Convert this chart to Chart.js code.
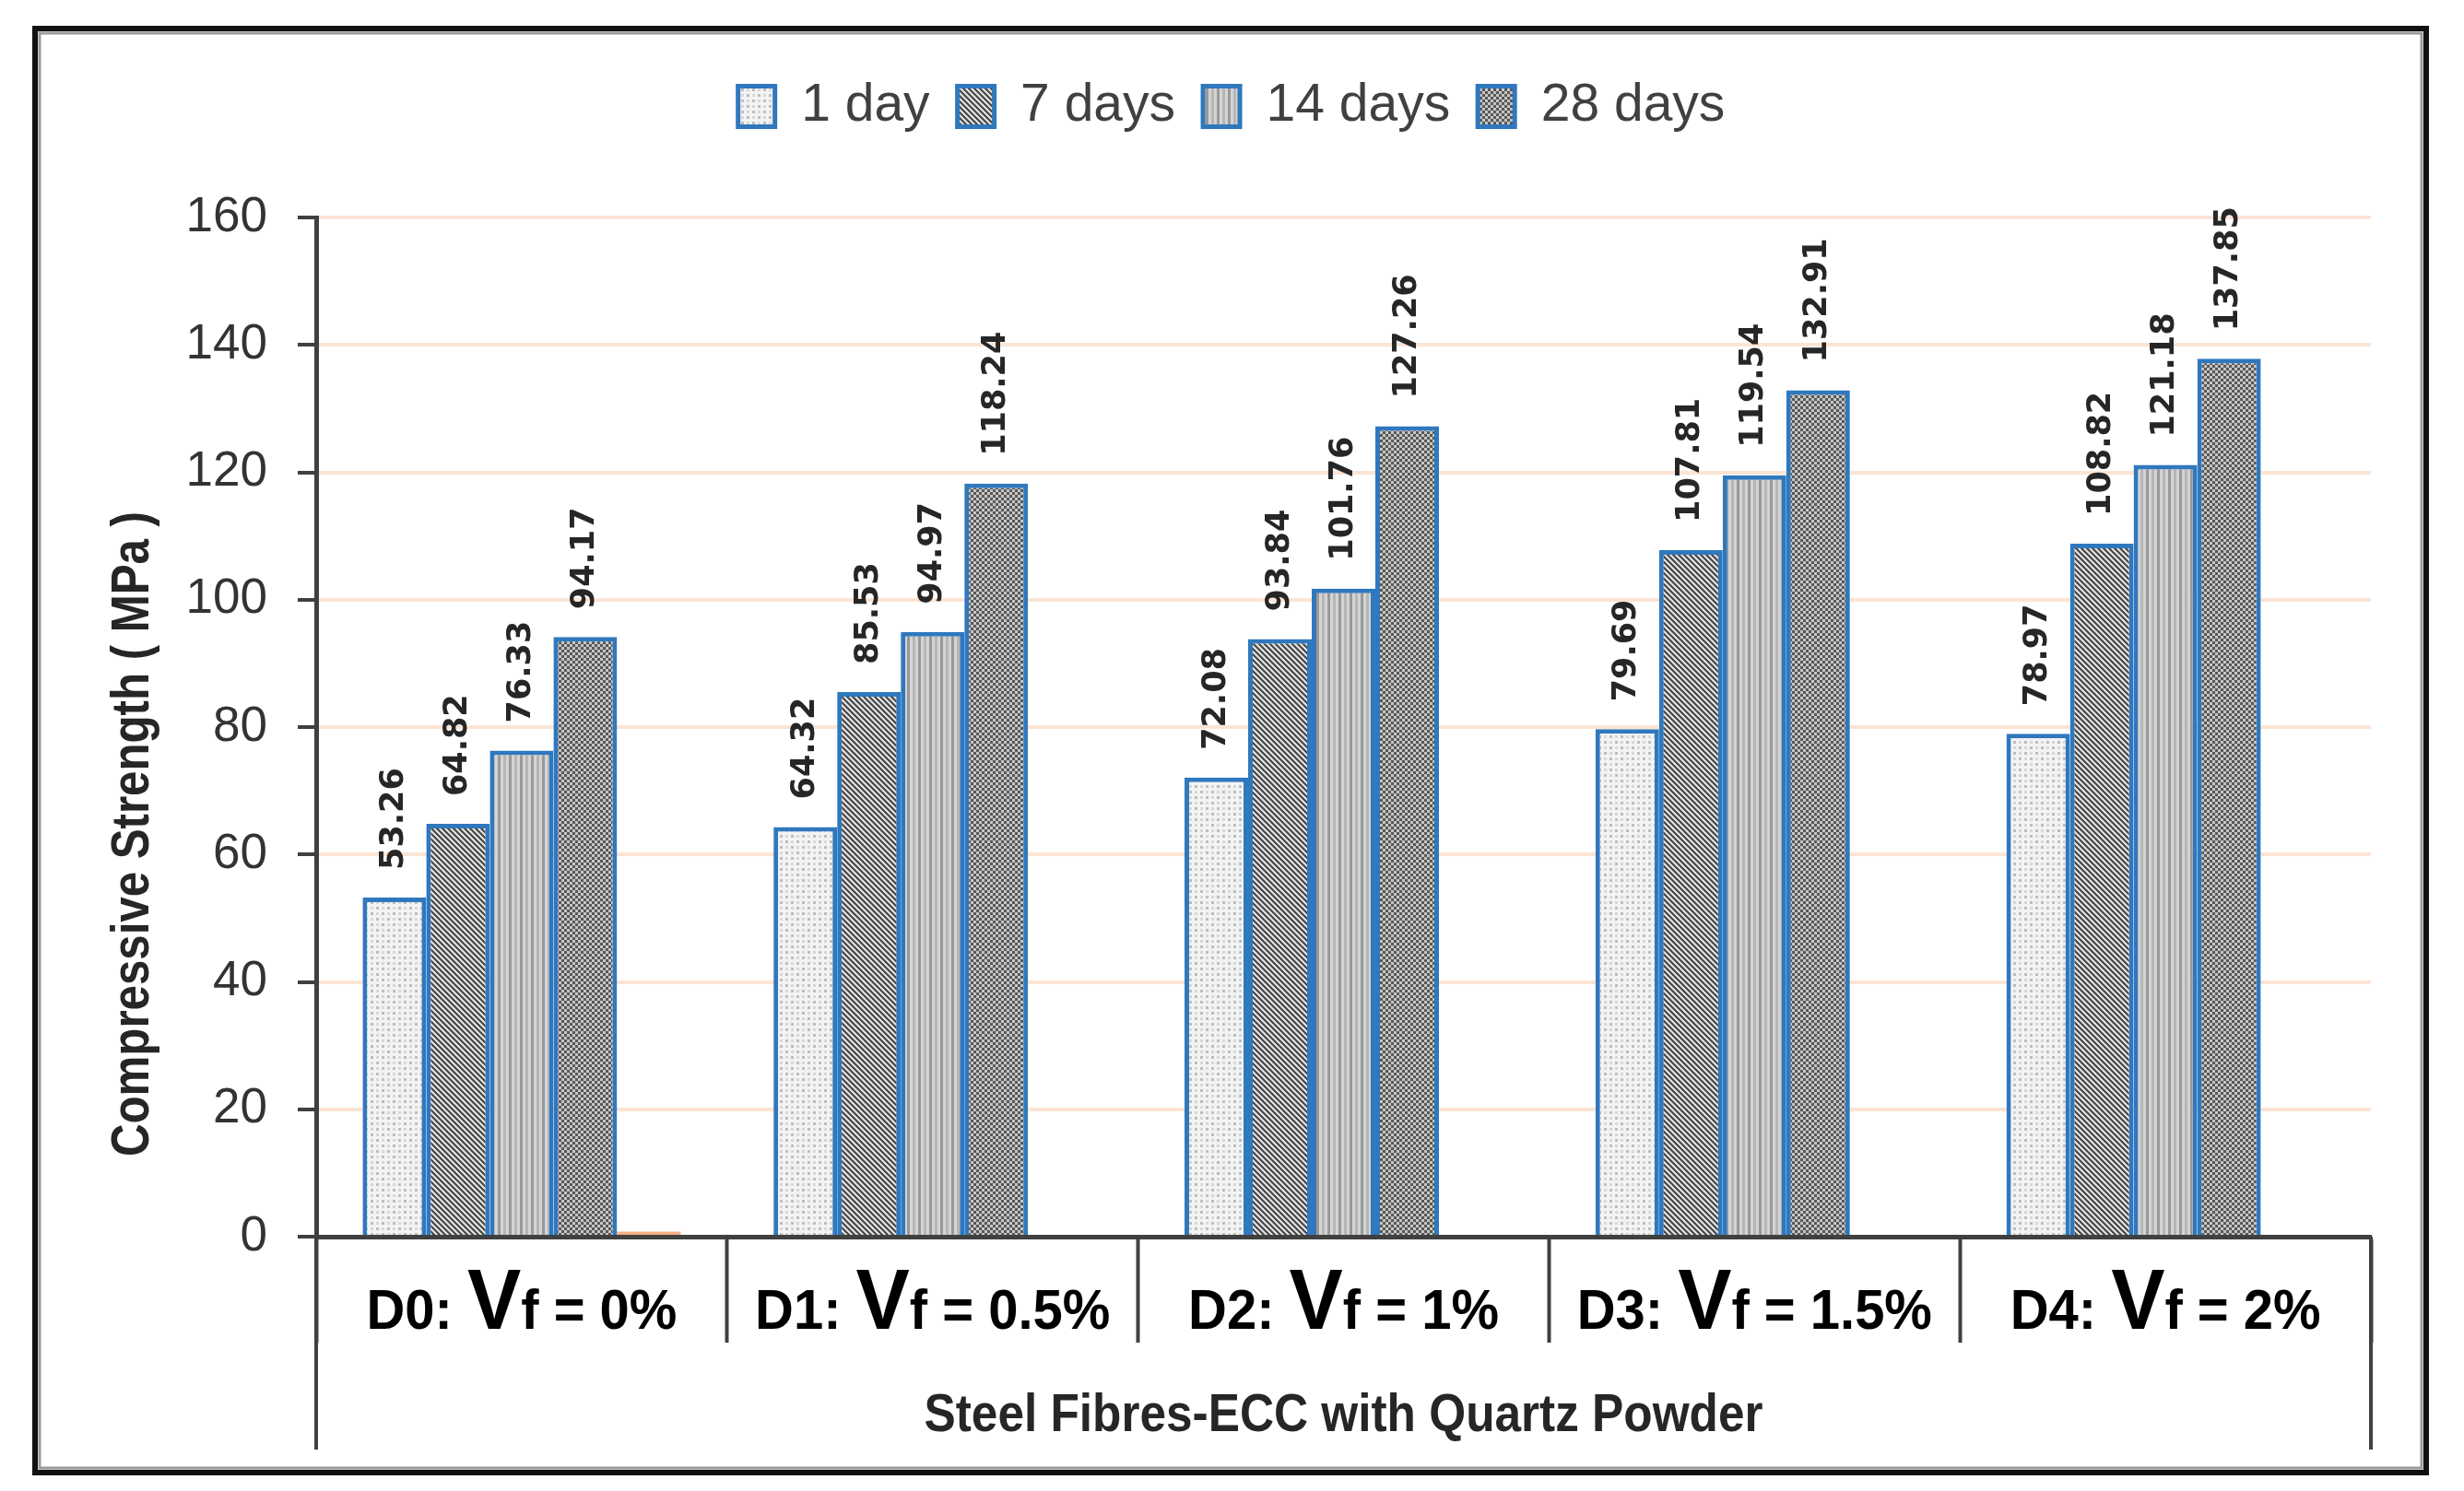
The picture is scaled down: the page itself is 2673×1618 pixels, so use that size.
<!DOCTYPE html>
<html>
<head>
<meta charset="utf-8">
<script src="https://cdn.jsdelivr.net/npm/chart.js@4.4.1/dist/chart.umd.min.js"></script>
<style>
  html, body { margin: 0; padding: 0; background: #fff; }
  #wrap { width: 2673px; height: 1618px; position: relative; }
</style>
</head>
<body>
<div id="wrap"><canvas id="chart"></canvas></div>
<script>
// data
const mixes = ['D0', 'D1', 'D2', 'D3', 'D4'];
const fibreVolumes = ['0%', '0.5%', '1%', '1.5%', '2%'];
const ageLabels = ['1 day', '7 days', '14 days', '28 days'];
const day1 = [53.26, 64.32, 72.08, 79.69, 78.97];
const day7 = [64.82, 85.53, 93.84, 107.81, 108.82];
const day14 = [76.33, 94.97, 101.76, 119.54, 121.18];
const day28 = [94.17, 118.24, 127.26, 132.91, 137.85];
const strayBar = [0.8, null, null, null, null]; // small orange bar next to D0
const yMin = 0, yMax = 160, yStep = 20;
const yTitle = 'Compressive Strength ( MPa )';
const groupTitle = 'Steel Fibres-ECC with Quartz Powder';

const AXIS = '#404040';
const BORDER_BLUE = '#2f78be';
const SANS = "'Liberation Sans', Arial, sans-serif";

const canvas = document.getElementById('chart');
const mainCtx = canvas.getContext('2d');

function makePattern(w, h, draw) {
    const c = document.createElement('canvas');
    c.width = w; c.height = h;
    draw(c.getContext('2d'));
    return mainCtx.createPattern(c, 'repeat');
}

// 1 day - light speckle
const patLight = makePattern(12, 12, g => {
    g.fillStyle = '#f3f3f3'; g.fillRect(0, 0, 12, 12);
    g.fillStyle = '#bdbdbd'; g.fillRect(0, 0, 3, 3); g.fillRect(6, 6, 3, 3);
    g.fillStyle = '#d8d8d8'; g.fillRect(6, 0, 3, 3); g.fillRect(0, 6, 3, 3);
});
// 7 days - dark diagonal hatch
const patHatch = makePattern(12, 12, g => {
    g.fillStyle = '#dcdcdc'; g.fillRect(0, 0, 12, 12);
    g.fillStyle = '#4e4e4e';
    for (let yy = 0; yy < 12; yy++) {
        g.fillRect(yy % 12, yy, 3, 1);
        g.fillRect((yy + 6) % 12, yy, 3, 1);
        if (yy % 12 > 9) g.fillRect(0, yy, (yy % 12) - 9, 1);
        if ((yy + 6) % 12 > 9) g.fillRect(0, yy, ((yy + 6) % 12) - 9, 1);
    }
});
// 14 days - vertical stripes
const patStripe = makePattern(12, 6, g => {
    g.fillStyle = '#d4d4d4'; g.fillRect(0, 0, 12, 6);
    g.fillStyle = '#999999'; g.fillRect(0, 0, 3, 6);
    g.fillStyle = '#b6b6b6'; g.fillRect(6, 0, 3, 6);
});
// 28 days - dark checker
const patChecker = makePattern(6, 6, g => {
    g.fillStyle = '#c6c6c6'; g.fillRect(0, 0, 6, 6);
    g.fillStyle = '#585858'; g.fillRect(0, 0, 3, 3); g.fillRect(3, 3, 3, 3);
});

const seriesValues = [day1, day7, day14, day28];
const seriesFills = [patLight, patHatch, patStripe, patChecker];

const datasets = seriesValues.map((vals, i) => ({
    label: ageLabels[i],
    data: vals,
    backgroundColor: seriesFills[i],
    borderColor: BORDER_BLUE,
    borderWidth: 5
}));
datasets.push({
    label: 'extra',
    data: strayBar,
    backgroundColor: '#f4b183',
    borderWidth: 0
});

// draws text squeezed/stretched along its length to a target width
function fitText(ctx, text, x, y, font, targetWidth) {
    ctx.font = font;
    const w = ctx.measureText(text).width;
    ctx.save();
    ctx.translate(x, y);
    ctx.scale(targetWidth / w, 1);
    ctx.fillText(text, 0, 0);
    ctx.restore();
}

const valueLabels = {
    id: 'valueLabels',
    afterDatasetsDraw(chart) {
        const ctx = chart.ctx;
        ctx.save();
        ctx.fillStyle = '#262626';
        ctx.font = "bold 35px 'DejaVu Sans', Verdana, sans-serif";
        ctx.textAlign = 'left';
        ctx.textBaseline = 'middle';
        for (let d = 0; d < 4; d++) {
            const meta = chart.getDatasetMeta(d);
            meta.data.forEach((bar, i) => {
                const v = seriesValues[d][i];
                ctx.save();
                ctx.translate(bar.x, bar.y - 30);
                ctx.rotate(-Math.PI / 2);
                ctx.fillText(v.toFixed(2), 0, 0);
                ctx.restore();
            });
        }
        ctx.restore();
    }
};

const decor = {
    id: 'decor',
    beforeDraw(chart) {
        const ctx = chart.ctx;
        ctx.save();
        ctx.fillStyle = '#fff';
        ctx.fillRect(0, 0, chart.width, chart.height);
        ctx.restore();
    },
    afterDraw(chart) {
        const {ctx, chartArea} = chart;
        const x = chart.scales.x;
        ctx.save();

        // outer frame
        ctx.strokeStyle = '#111';
        ctx.lineWidth = 6;
        ctx.strokeRect(38, 31, 2594, 1567);
        ctx.strokeStyle = '#9a9a9a';
        ctx.lineWidth = 3;
        ctx.strokeRect(43, 36, 2584, 1557);

        // outer lines of the category box
        ctx.strokeStyle = AXIS;
        ctx.lineWidth = 4;
        ctx.beginPath();
        ctx.moveTo(chartArea.left, chartArea.bottom);
        ctx.lineTo(chartArea.left, 1573);
        ctx.moveTo(chartArea.right, chartArea.bottom);
        ctx.lineTo(chartArea.right, 1573);
        ctx.stroke();

        // category labels  "Dn: Vf = x%"
        ctx.fillStyle = '#000';
        ctx.textBaseline = 'alphabetic';
        ctx.textAlign = 'left';
        const small = 'bold 61px ' + SANS;
        const big = 'bold 92px ' + SANS;
        const squeeze = 0.95;
        mixes.forEach((m, i) => {
            const parts = [
                [m + ': ', small],
                ['V', big],
                ['f', small],
                [' = ' + fibreVolumes[i], small]
            ];
            let total = 0;
            parts.forEach(p => { ctx.font = p[1]; total += ctx.measureText(p[0]).width; });
            ctx.save();
            ctx.translate(x.getPixelForValue(i) - total * squeeze / 2, 1442);
            ctx.scale(squeeze, 1);
            let cx = 0;
            parts.forEach(p => {
                ctx.font = p[1];
                ctx.fillText(p[0], cx, 0);
                cx += ctx.measureText(p[0]).width;
            });
            ctx.restore();
        });

        // group title under the categories
        ctx.fillStyle = '#262626';
        ctx.textAlign = 'left';
        const mid = (chartArea.left + chartArea.right) / 2;
        fitText(ctx, groupTitle, mid - 455, 1553, 'bold 57px ' + SANS, 910);

        // y axis title
        ctx.save();
        ctx.translate(145, 905);
        ctx.rotate(-Math.PI / 2);
        ctx.textBaseline = 'middle';
        fitText(ctx, yTitle, -350, 0, 'bold 58px ' + SANS, 700);
        ctx.restore();

        ctx.restore();
    }
};

new Chart(canvas, {
    type: 'bar',
    data: { labels: mixes, datasets: datasets },
    options: {
        responsive: true,
        maintainAspectRatio: false,
        devicePixelRatio: 1,
        animation: false,
        layout: { padding: { top: 57, left: 100, right: 101, bottom: 20 } },
        datasets: {
            bar: { categoryPercentage: 0.774, barPercentage: 1.0 }
        },
        plugins: {
            legend: {
                position: 'top',
                labels: {
                    boxWidth: 40,
                    boxHeight: 44,
                    padding: 30,
                    color: AXIS,
                    font: { family: SANS, size: 57 },
                    filter: item => item.datasetIndex < 4
                }
            },
            // empty title used only as spacing between legend and plot
            title: {
                display: true,
                text: '',
                weight: 500,
                font: { size: 1 },
                padding: { top: 81, bottom: 0 }
            },
            tooltip: { enabled: false }
        },
        scales: {
            x: {
                grid: {
                    display: true,
                    drawOnChartArea: false,
                    drawTicks: true,
                    tickLength: 115,
                    tickColor: AXIS,
                    tickWidth: 4,
                    offset: true
                },
                border: { display: true, color: AXIS, width: 5 },
                ticks: { display: false },
                afterFit: scale => { scale.height = 256; }
            },
            y: {
                min: yMin,
                max: yMax,
                grid: {
                    color: '#fce4d4',
                    lineWidth: 4,
                    drawTicks: true,
                    tickLength: 20,
                    tickColor: AXIS,
                    tickWidth: 4
                },
                border: { display: true, color: AXIS, width: 5 },
                ticks: {
                    stepSize: yStep,
                    padding: 33,
                    color: '#333',
                    font: { family: SANS, size: 53 }
                },
                afterFit: scale => { scale.width = 243; }
            }
        }
    },
    plugins: [valueLabels, decor]
});
</script>
</body>
</html>
